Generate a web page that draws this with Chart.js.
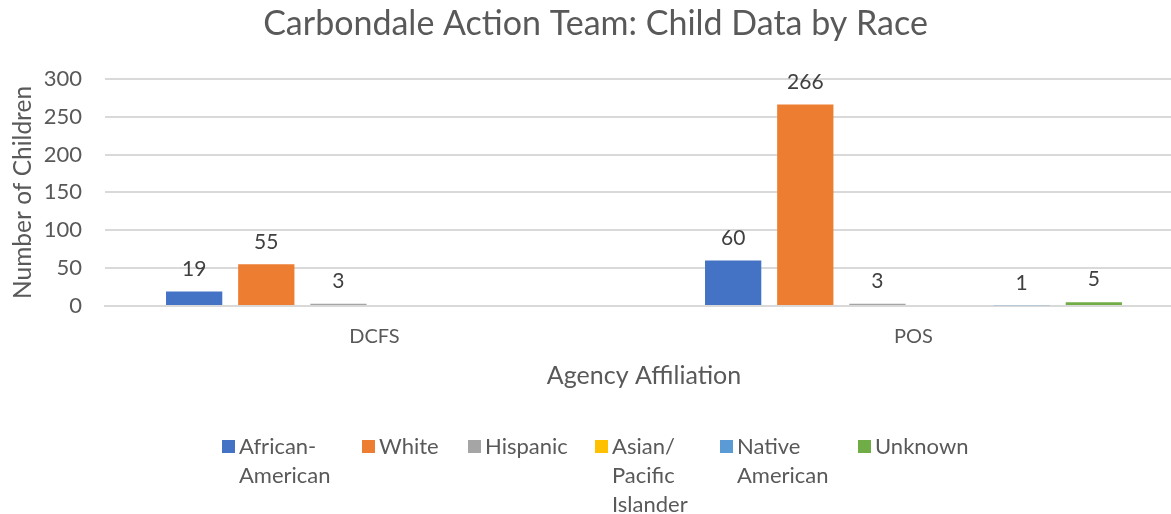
<!DOCTYPE html>
<html>
<head>
<meta charset="utf-8">
<script src="https://cdn.jsdelivr.net/npm/chart.js@4.4.1/dist/chart.umd.min.js"></script>
<style>
  html, body { margin: 0; padding: 0; background: #fff; overflow: hidden; }
  #wrap { width: 1183px; height: 514px; }
</style>
</head>
<body>
<div id="wrap"><canvas id="chart"></canvas></div>
<script>
const categories = ['DCFS', 'POS'];
const africanAmerican = [19, 60];
const white = [55, 266];
const hispanic = [3, 3];
const asianPacific = [null, null];
const nativeAmerican = [null, 1];
const unknown = [null, 5];
const yTicks = [0, 50, 100, 150, 200, 250, 300];

const FONT = 'Lato, "Open Sans", sans-serif';
const TXT = '#595959';

// values above the bars, empty cells get no label
const valueLabels = {
  id: 'valueLabels',
  afterDatasetsDraw(chart) {
    const ctx = chart.ctx;
    ctx.save();
    ctx.font = '21px ' + FONT;
    ctx.fillStyle = '#404040';
    ctx.textAlign = 'center';
    ctx.textBaseline = 'bottom';
    chart.data.datasets.forEach((ds, i) => {
      chart.getDatasetMeta(i).data.forEach((bar, j) => {
        const v = ds.data[j];
        if (v === null || v === undefined) return;
        ctx.fillText(String(v), bar.x, bar.y - 12);
      });
    });
    ctx.restore();
  }
};

// legend with wrapped labels like the Excel one
const wrapLegend = {
  id: 'wrapLegend',
  afterDraw(chart) {
    const ctx = chart.ctx;
    const xs = [222, 362, 468, 595, 720, 858];
    const top = 447;
    ctx.save();
    ctx.font = '22px ' + FONT;
    ctx.textBaseline = 'middle';
    chart.data.datasets.forEach((ds, i) => {
      ctx.fillStyle = ds.backgroundColor;
      ctx.fillRect(xs[i], top - 7, 13, 13);
      ctx.fillStyle = TXT;
      ds.legendLines.forEach((line, k) => {
        ctx.fillText(line, xs[i] + 17, top + k * 29);
      });
    });
    ctx.restore();
  }
};

new Chart(document.getElementById('chart'), {
  type: 'bar',
  data: {
    labels: categories,
    datasets: [
      { label: 'African-American', legendLines: ['African-', 'American'], data: africanAmerican, backgroundColor: '#4472C4' },
      { label: 'White', legendLines: ['White'], data: white, backgroundColor: '#ED7D31' },
      { label: 'Hispanic', legendLines: ['Hispanic'], data: hispanic, backgroundColor: '#A5A5A5' },
      { label: 'Asian/ Pacific Islander', legendLines: ['Asian/', 'Pacific', 'Islander'], data: asianPacific, backgroundColor: '#FFC000' },
      { label: 'Native American', legendLines: ['Native', 'American'], data: nativeAmerican, backgroundColor: '#5B9BD5' },
      { label: 'Unknown', legendLines: ['Unknown'], data: unknown, backgroundColor: '#70AD47' }
    ]
  },
  options: {
    responsive: true,
    maintainAspectRatio: false,
    animation: false,
    layout: { padding: { left: 8, right: 0, top: 4, bottom: 119 } },
    datasets: { bar: { categoryPercentage: 0.803, barPercentage: 0.78 } },
    plugins: {
      legend: { display: false },
      tooltip: { enabled: false },
      title: {
        display: true,
        text: 'Carbondale Action Team: Child Data by Race',
        color: TXT,
        font: { family: FONT, size: 34, weight: 'normal' },
        padding: { top: 0, bottom: 34 }
      }
    },
    scales: {
      x: {
        afterFit: (axis) => { axis.height = 89; },
        grid: { display: false },
        border: { color: '#d9d9d9', width: 2 },
        ticks: { color: TXT, font: { family: FONT, size: 20 }, padding: 11 },
        title: {
          display: true,
          text: 'Agency Affiliation',
          color: TXT,
          font: { family: FONT, size: 25 },
          padding: { top: 4, bottom: 4 }
        }
      },
      y: {
        min: 0,
        max: 300,
        afterFit: (axis) => { axis.width = 97; },
        afterBuildTicks: (axis) => { axis.ticks = yTicks.map(v => ({ value: v })); },
        grid: { color: '#d9d9d9', lineWidth: 2, drawTicks: false },
        border: { display: false },
        ticks: { color: TXT, font: { family: FONT, size: 22 }, padding: 23 },
        title: {
          display: true,
          text: 'Number of Children',
          color: TXT,
          font: { family: FONT, size: 24.5 },
          padding: { top: 0, bottom: 0 }
        }
      }
    }
  },
  plugins: [valueLabels, wrapLegend]
});
</script>
</body>
</html>
